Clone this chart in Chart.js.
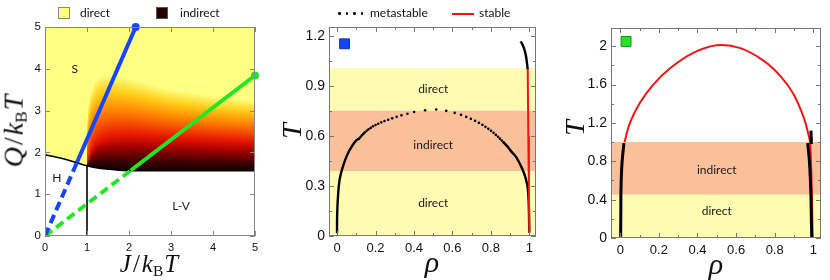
<!DOCTYPE html>
<html><head><meta charset="utf-8">
<script src="https://cdn.jsdelivr.net/npm/chart.js@4.4.1/dist/chart.umd.min.js"></script>
<style>
html,body{margin:0;padding:0;background:#fff}
body{width:830px;height:280px;overflow:hidden;position:relative}
canvas{position:absolute;top:0}
.ttl{position:absolute;font-family:"Liberation Serif","DejaVu Serif",serif;font-style:italic;white-space:nowrap;transform:translate(-50%,-50%);color:#111;line-height:1}
.ttl .up{font-style:normal;margin:0 2px}
.ttl sub{font-style:normal;font-size:0.62em;vertical-align:-0.25em;margin-right:1px}
.leg{position:absolute;font-family:Lato,"Open Sans",sans-serif;font-size:12px;color:#111;white-space:nowrap;line-height:12px}
.box{position:absolute;width:10px;height:10px;border:1px solid #888}
.dot{position:absolute;width:2.6px;height:2.6px;border-radius:50%;background:#000}
</style></head><body>
<canvas id="c1" width="280" height="280" style="left:0"></canvas>
<canvas id="c2" width="280" height="280" style="left:280px"></canvas>
<canvas id="c3" width="270" height="280" style="left:560px"></canvas>

<!-- legends -->
<div class="box" style="left:58px;top:7px;background:#ffff84"></div>
<div class="leg" style="left:80px;top:7px">direct</div>
<div class="box" style="left:156px;top:7px;background:#250000;border-color:#555"></div>
<div class="leg" style="left:180px;top:7px">indirect</div>

<div class="dot" style="left:338px;top:12px"></div>
<div class="dot" style="left:345.5px;top:12px"></div>
<div class="dot" style="left:353px;top:12px"></div>
<div class="dot" style="left:360.5px;top:12px"></div>
<div class="leg" style="left:370px;top:7px">metastable</div>
<div style="position:absolute;left:452px;top:13px;width:22px;height:2px;background:#f01414"></div>
<div class="leg" style="left:479px;top:7px">stable</div>

<!-- axis titles -->
<div class="ttl" style="left:149px;top:265px;font-size:25px">J<span class="up">/</span>k<sub>B</sub>T</div>
<div class="ttl" style="left:15px;top:131px;font-size:28px;transform:translate(-50%,-50%) rotate(-90deg)">Q<span class="up">/</span>k<sub>B</sub>T</div>
<div class="ttl" style="left:292px;top:131px;font-size:28px;transform:translate(-50%,-50%) rotate(-90deg)">T</div>
<div class="ttl" style="left:432px;top:262px;font-size:30px">ρ</div>
<div class="ttl" style="left:575px;top:128px;font-size:28px;transform:translate(-50%,-50%) rotate(-90deg)">T</div>
<div class="ttl" style="left:716px;top:264px;font-size:30px">ρ</div>

<script>
// ================= DATA =================
// Panel 1: phase diagram Q/kBT vs J/kBT
const p1Legend = ['direct', 'indirect'];
const boundaryJ = [0, 0.25, 0.5, 0.76, 1.0, 1.25, 1.5, 1.75, 2.0, 2.5, 3, 4, 5];
const boundaryQ = [1.94, 1.89, 1.83, 1.75, 1.68, 1.63, 1.60, 1.575, 1.565, 1.56, 1.56, 1.56, 1.56];
const lvJ = [1, 1];
const lvQ = [0, 1.68];
const blueJ = [0, 0.76, 2.16];
const blueQ = [0, 1.757, 5];
const greenJ = [0, 2.04, 5];
const greenQ = [0, 1.567, 3.84];
// indirect-gap colour map: Q of its yellow top edge and of its red middle
const heatJ    = [1.00, 1.04, 1.10, 1.20, 1.35, 1.55, 2.0, 3.0, 4.0, 5.0];
const heatTopQ = [2.70, 3.20, 3.50, 3.72, 3.85, 3.88, 3.78, 3.50, 3.35, 3.25];
const heatRedQ = [1.72, 1.85, 2.05, 2.22, 2.32, 2.38, 2.42, 2.36, 2.30, 2.26];
const regionNames = ['S', 'H', 'L-V'];
const regionJ = [0.71, 0.28, 3.24];
const regionQ = [3.99, 1.38, 0.72];

// Panel 2: T vs rho (blue state point)
const p2DotRho = [0.115,0.122,0.129,0.137,0.145,0.154,0.164,0.175,0.187,0.200,0.214,0.230,0.247,0.266,0.287,0.310,0.335,0.366,0.401,0.458,0.516,0.568,0.612,0.645,0.672,0.696,0.718,0.738,0.756,0.772,0.787,0.801,0.814,0.826,0.837,0.847,0.857,0.866];
const p2DotT   = [0.585,0.595,0.605,0.614,0.623,0.632,0.641,0.650,0.659,0.667,0.675,0.683,0.691,0.699,0.707,0.716,0.725,0.735,0.745,0.755,0.760,0.752,0.740,0.728,0.716,0.704,0.692,0.680,0.668,0.656,0.644,0.632,0.620,0.608,0.596,0.585,0.574,0.563];
const p2LeftRho  = [0.0, 0.0, 0.002, 0.005, 0.009, 0.015, 0.026, 0.040, 0.058, 0.080, 0.100, 0.115];
const p2LeftT    = [0.016, 0.10, 0.18, 0.24, 0.30, 0.35, 0.40, 0.45, 0.50, 0.545, 0.575, 0.585];
const p2RightRho = [0.866, 0.885, 0.905, 0.930, 0.953, 0.973, 0.985, 0.993, 0.997, 0.999, 1.0];
const p2RightT   = [0.563, 0.540, 0.510, 0.477, 0.430, 0.377, 0.330, 0.280, 0.200, 0.100, 0.02];
const p2UpperRho = [0.955, 0.965, 0.975, 0.983, 0.988, 0.992];
const p2UpperT   = [1.17, 1.15, 1.12, 1.08, 1.04, 1.0];
const p2StableRho = [0.992, 0.995, 0.998, 1.0];
const p2StableT   = [1.0, 0.6, 0.3, 0.02];
const p2BandLow  = [0, 0.391, 0.753];
const p2BandHigh = [0.391, 0.753, 1.01];
const p2BandName = ['direct', 'indirect', 'direct'];
const p2BandLabelT = [0.197, 0.544, 0.883];
const p2MarkRho = [0.039];
const p2MarkT = [1.155];

// Panel 3: T vs rho (green state point)
const p3RedRho = [0.022, 0.050, 0.102, 0.171, 0.258, 0.378, 0.500, 0.622, 0.742, 0.829, 0.898, 0.950, 0.975, 0.983, 0.988, 0.992, 0.995, 0.996];
const p3RedT   = [1.00, 1.20, 1.41, 1.60, 1.77, 1.93, 2.01, 1.98, 1.85, 1.69, 1.50, 1.26, 1.08, 1.00, 0.80, 0.50, 0.20, 0.02];
const p3BlackLRho = [0.002, 0.003, 0.004, 0.009, 0.019];
const p3BlackLT   = [0.014, 0.30, 0.54, 0.78, 0.99];
const p3BlackRRho = [0.971, 0.980, 0.987, 0.990, 0.992];
const p3BlackRT   = [0.99, 0.80, 0.50, 0.20, 0.01];
const p3SpikeRho = [0.988, 0.989, 0.990];
const p3SpikeT   = [1.12, 1.05, 0.98];
const p3BandLow  = [0, 0.45];
const p3BandHigh = [0.45, 1.0];
const p3BandName = ['direct', 'indirect'];
const p3BandLabelT = [0.285, 0.71];
const p3MarkRho = [0.03];
const p3MarkT = [2.05];

// ================= HELPERS =================
const pts = (xs, ys) => xs.map((v, i) => ({x: v, y: ys[i]}));
const lerpArr = (xs, ys, x) => {
  if (x <= xs[0]) return ys[0];
  for (let i = 1; i < xs.length; i++) if (x <= xs[i]) {
    const t = (x - xs[i-1]) / (xs[i] - xs[i-1]); return ys[i-1] + t * (ys[i] - ys[i-1]);
  }
  return ys[ys.length - 1];
};
const YELLOW1 = '#ffff84';
const BANDY = 'rgb(255,251,178)';
const BANDO = 'rgb(249,192,154)';
const RED = '#f01414';
const BLUE = '#1446ff';
const GREEN = '#22e622';
const TICKFONT = "'Liberation Sans Narrow','Liberation Sans',Arial,sans-serif";
const fmt = v => String(+(+v).toFixed(2));

const frameTicks = {
  id: 'frameTicks',
  afterDatasetsDraw(chart, args, o) {
    const {ctx, chartArea: a, scales: {x, y}} = chart;
    ctx.save();
    ctx.strokeStyle = o.color; ctx.lineWidth = 1;
    ctx.strokeRect(Math.round(a.left) + 0.5, Math.round(a.top) + 0.5, Math.round(a.right - a.left) - 1, Math.round(a.bottom - a.top) - 1);
    const marks = (scale, step, len, isX) => {
      if (!step) return;
      const i0 = Math.ceil(scale.min / step - 1e-6), i1 = Math.floor(scale.max / step + 1e-6);
      ctx.beginPath();
      for (let i = i0; i <= i1; i++) {
        const p = Math.round(scale.getPixelForValue(i * step)) + 0.5;
        if (isX) { ctx.moveTo(p, a.bottom); ctx.lineTo(p, a.bottom - len); ctx.moveTo(p, a.top); ctx.lineTo(p, a.top + len); }
        else { ctx.moveTo(a.left, p); ctx.lineTo(a.left + len, p); ctx.moveTo(a.right, p); ctx.lineTo(a.right - len, p); }
      }
      ctx.stroke();
    };
    marks(x, o.xMinor, 3, true); marks(x, o.xMajor, 5, true);
    marks(y, o.yMinor, 3, false); marks(y, o.yMajor, 5, false);
    ctx.restore();
  }
};
const textPlugin = {
  id: 'texts',
  afterDatasetsDraw(chart, args, o) {
    const {ctx, scales: {x, y}} = chart;
    ctx.save();
    ctx.font = o.font; ctx.fillStyle = '#1a1a1a'; ctx.textAlign = 'center'; ctx.textBaseline = 'middle';
    o.names.forEach((t, i) => ctx.fillText(t, x.getPixelForValue(o.xs[i]), y.getPixelForValue(o.ys[i])));
    ctx.restore();
  }
};
const hotStops = [[0,'rgb(18,0,0)'],[0.14,'rgb(65,0,0)'],[0.33,'rgb(160,0,0)'],[0.5,'rgb(232,22,0)'],[0.7,'rgb(255,128,0)'],[0.86,'rgb(255,205,25)'],[1,'rgb(255,255,128)']];
const heatPlugin = {
  id: 'heat',
  beforeDatasetsDraw(chart) {
    const {ctx, chartArea: a, scales: {x, y}} = chart;
    ctx.save(); ctx.beginPath(); ctx.rect(a.left, a.top, a.right - a.left, a.bottom - a.top); ctx.clip();
    const x0 = Math.round(x.getPixelForValue(heatJ[0])), x1 = Math.round(x.getPixelForValue(heatJ[heatJ.length - 1]));
    for (let px = x0; px < x1; px++) {
      const J = x.getValueForPixel(px + 0.5);
      const yb = y.getPixelForValue(lerpArr(boundaryJ, boundaryQ, J));
      const yr = y.getPixelForValue(lerpArr(heatJ, heatRedQ, J));
      const yt = y.getPixelForValue(lerpArr(heatJ, heatTopQ, J));
      const pr = (yb - yr) / (yb - yt);
      const g = ctx.createLinearGradient(0, yb, 0, yt);
      hotStops.forEach(([t, c]) => g.addColorStop(t <= 0.5 ? t / 0.5 * pr : pr + (t - 0.5) / 0.5 * (1 - pr), c));
      ctx.fillStyle = g; ctx.fillRect(px, yt, 1, yb - yt);
    }
    ctx.restore();
  }
};

function axes(xmin, xmax, xstep, ymin, ymax, ystep, yW, xH, fs, yfs) {
  return {
    x: {type: 'linear', min: xmin, max: xmax,
        afterFit: s => { s.height = xH; },
        grid: {display: false, drawTicks: false}, border: {display: false},
        ticks: {stepSize: xstep, includeBounds: false, padding: 5, color: '#111', maxRotation: 0, autoSkip: false,
                callback: fmt, font: {family: TICKFONT, size: fs}}},
    y: {type: 'linear', min: ymin, max: ymax,
        afterFit: s => { s.width = yW; },
        grid: {display: false, drawTicks: false}, border: {display: false},
        ticks: {stepSize: ystep, includeBounds: false, padding: 4, color: '#111', autoSkip: false,
                callback: fmt, font: {family: TICKFONT, size: yfs}}}
  };
}
const basePlugins = (extra) => Object.assign({legend: {display: false}, tooltip: {enabled: false}, filler: {drawTime: 'beforeDatasetsDraw'}}, extra);

// ================= PANEL 1 =================
new Chart(document.getElementById('c1'), {
  type: 'scatter',
  data: {datasets: [
    {label: 'blue solid', data: pts(blueJ.slice(1), blueQ.slice(1)), showLine: true, borderColor: BLUE, borderWidth: 4,
     pointRadius: [0, 4], pointBackgroundColor: BLUE, pointBorderWidth: 0, clip: false},
    {label: 'blue dashed', data: pts(blueJ.slice(0, 2), blueQ.slice(0, 2)), showLine: true, borderColor: BLUE, borderWidth: 4,
     borderDash: [9, 5], pointRadius: 0},
    {label: 'green solid', data: pts(greenJ.slice(1), greenQ.slice(1)), showLine: true, borderColor: GREEN, borderWidth: 4,
     pointRadius: [0, 4], pointBackgroundColor: GREEN, pointBorderWidth: 0, clip: false},
    {label: 'green dashed', data: pts(greenJ.slice(0, 2), greenQ.slice(0, 2)), showLine: true, borderColor: GREEN, borderWidth: 4,
     borderDash: [9, 5], pointRadius: 0},
    {label: 'J=1 line', data: pts(lvJ, lvQ), showLine: true, borderColor: '#000', borderWidth: 1.6, pointRadius: 0},
    {label: p1Legend[0], data: pts(boundaryJ, boundaryQ), showLine: true, borderColor: '#000', borderWidth: 1.6, pointRadius: 0,
     tension: 0.3, fill: 'end', backgroundColor: YELLOW1}
  ]},
  options: {responsive: false, animation: false, events: [],
    layout: {padding: {top: 27, right: 25, left: 0, bottom: 0}},
    scales: axes(0, 5, 1, 0, 5, 1, 45, 44, 11, 11.5),
    plugins: basePlugins({frameTicks: {color: '#888', xMajor: 1, yMajor: 1},
      texts: {font: '12px Lato, sans-serif', names: regionNames, xs: regionJ, ys: regionQ}})
  },
  plugins: [heatPlugin, frameTicks, textPlugin]
});

// ================= PANEL 2 =================
const bandSets = (low, high, names, xmin, xmax) => low.map((lo, i) => ({
  label: 'band ' + names[i], data: [{x: xmin, y: high[i]}, {x: xmax, y: high[i]}], showLine: true, borderWidth: 0,
  pointRadius: 0, fill: {value: lo}, backgroundColor: names[i] === 'direct' ? BANDY : BANDO
}));
const X2MIN = -0.042, X2MAX = 1.035;
new Chart(document.getElementById('c2'), {
  type: 'scatter',
  data: {datasets: [
    {label: 'stable', data: pts(p2StableRho, p2StableT), showLine: true, borderColor: RED, borderWidth: 2, pointRadius: 0},
    {label: 'marker', data: pts(p2MarkRho, p2MarkT), pointStyle: 'rect', pointRadius: 7, backgroundColor: BLUE, borderColor: '#123a99', borderWidth: 1},
    {label: 'metastable', data: pts(p2DotRho, p2DotT), pointRadius: 1.3, pointBorderWidth: 0, backgroundColor: '#000'},
    {label: 'metastable L', data: pts(p2LeftRho, p2LeftT), showLine: true, borderColor: '#000', borderWidth: 2.4, pointRadius: 0, tension: 0.35},
    {label: 'metastable R', data: pts(p2RightRho, p2RightT), showLine: true, borderColor: '#000', borderWidth: 2.4, pointRadius: 0, tension: 0.35},
    {label: 'metastable U', data: pts(p2UpperRho, p2UpperT), showLine: true, borderColor: '#000', borderWidth: 2.4, pointRadius: 0, tension: 0.35},
    ...bandSets(p2BandLow, p2BandHigh, p2BandName, X2MIN, X2MAX)
  ]},
  options: {responsive: false, animation: false, events: [],
    layout: {padding: {top: 27, right: 24, left: 0, bottom: 0}},
    scales: axes(X2MIN, X2MAX, 0.2, 0, 1.256, 0.3, 49, 44, 13, 14),
    plugins: basePlugins({frameTicks: {color: '#777', xMajor: 0.2, xMinor: 0.1, yMajor: 0.3, yMinor: 0.15},
      texts: {font: '12px Lato, sans-serif', names: p2BandName, xs: p2BandName.map(() => 0.5), ys: p2BandLabelT}})
  },
  plugins: [frameTicks, textPlugin]
});

// ================= PANEL 3 =================
const X3MIN = -0.048, X3MAX = 1.04;
new Chart(document.getElementById('c3'), {
  type: 'scatter',
  data: {datasets: [
    {label: 'marker', data: pts(p3MarkRho, p3MarkT), pointStyle: 'rect', pointRadius: 7, backgroundColor: GREEN, borderColor: '#1a8a1a', borderWidth: 1},
    {label: 'metastable L', data: pts(p3BlackLRho, p3BlackLT), showLine: true, borderColor: '#000', borderWidth: 3, pointRadius: 0, tension: 0.35},
    {label: 'metastable R', data: pts(p3BlackRRho, p3BlackRT), showLine: true, borderColor: '#000', borderWidth: 3, pointRadius: 0, tension: 0.35},
    {label: 'metastable S', data: pts(p3SpikeRho, p3SpikeT), showLine: true, borderColor: '#000', borderWidth: 3, pointRadius: 0},
    {label: 'stable', data: pts(p3RedRho, p3RedT), showLine: true, borderColor: RED, borderWidth: 2, pointRadius: 0, tension: 0.35},
    ...bandSets(p3BandLow, p3BandHigh, p3BandName, X3MIN, X3MAX)
  ]},
  options: {responsive: false, animation: false, events: [],
    layout: {padding: {top: 28, right: 9, left: 0, bottom: 0}},
    scales: axes(X3MIN, X3MAX, 0.2, 0, 2.19, 0.4, 51, 42, 13, 14),
    plugins: basePlugins({frameTicks: {color: '#777', xMajor: 0.2, xMinor: 0.1, yMajor: 0.4, yMinor: 0.2},
      texts: {font: '12px Lato, sans-serif', names: p3BandName, xs: p3BandName.map(() => 0.5), ys: p3BandLabelT}})
  },
  plugins: [frameTicks, textPlugin]
});
</script>
</body></html>
